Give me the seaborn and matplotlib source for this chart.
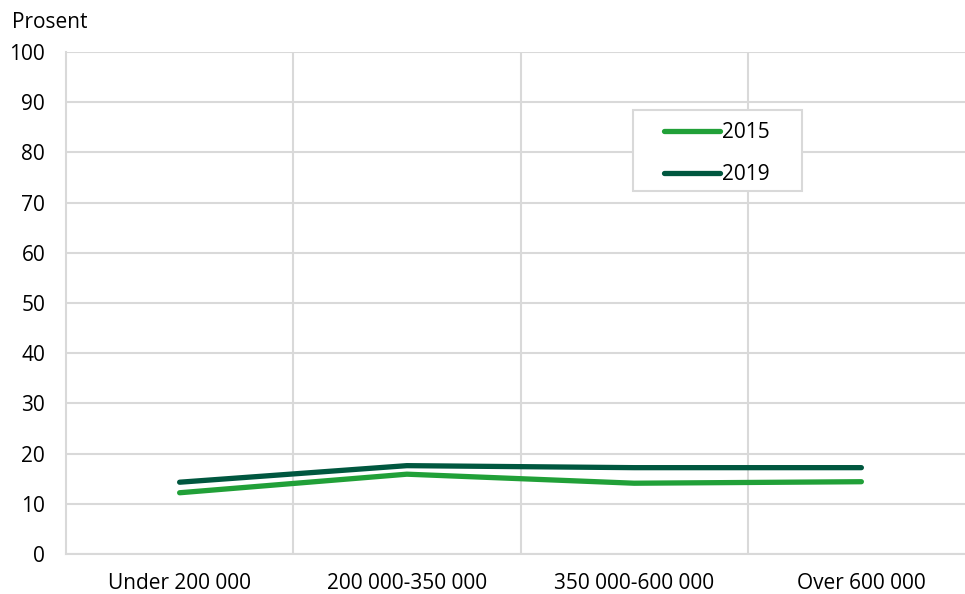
import pandas as pd
import matplotlib.pyplot as plt
import matplotlib.patches as patches
import seaborn as sns

# data
kategorier = ['Under 200 000', '200 000-350 000', '350 000-600 000', 'Over 600 000']
verdi_2015 = [12.2, 15.9, 14.1, 14.4]
verdi_2019 = [14.3, 17.6, 17.2, 17.2]
aar = ['2015', '2019']

data = pd.DataFrame({
    'kategori': kategorier * 2,
    'prosent': verdi_2015 + verdi_2019,
    'aar': [aar[0]] * 4 + [aar[1]] * 4,
})

sns.set_style('white')
plt.rcParams['font.family'] = ['Open Sans', 'DejaVu Sans']
plt.rcParams['text.color'] = '#000000'

fig = plt.figure(figsize=(9.65, 5.94), dpi=100)
ax = fig.add_axes([66 / 965, 1 - 554 / 594, (975 - 66) / 965, (554 - 52) / 594])

farger = {'2015': '#21a038', '2019': '#00573f'}
sns.lineplot(data=data, x='kategori', y='prosent', hue='aar', palette=farger,
             linewidth=3.8, ax=ax, sort=False, legend=True)
for ln in ax.lines:
    ln.set_solid_capstyle('round')

ax.set_xlim(-0.5, 3.5)
ax.set_ylim(0, 100)
ax.set_yticks(range(0, 101, 10))
ax.set_xticks(range(4))
ax.set_xticklabels(kategorier)
ax.set_xticks([0.5, 1.5, 2.5], minor=True)
ax.grid(True, which='major', axis='y', color='#d9d9d9', linewidth=1.5)
ax.grid(True, which='minor', axis='x', color='#d9d9d9', linewidth=1.5)
ax.set_axisbelow(True)
ax.tick_params(axis='both', which='both', length=0, labelsize=15, colors='#000000')
ax.tick_params(axis='y', pad=15)
ax.tick_params(axis='x', pad=14)
ax.set_xlabel('')
ax.set_ylabel('')
for s in ['top', 'right']:
    ax.spines[s].set_visible(False)
for s in ['left', 'bottom']:
    ax.spines[s].set_color('#d9d9d9')
    ax.spines[s].set_linewidth(1.5)

# legend box drawn by hand so the padding matches
ramme = patches.Rectangle((633 / 965, 1 - 191 / 594), (802 - 633) / 965, (191 - 110) / 594,
                          transform=fig.transFigure, facecolor='white',
                          edgecolor='#d9d9d9', linewidth=1.5, zorder=4, clip_on=False)
ax.add_patch(ramme)

leg = ax.legend(loc='upper left', bbox_to_anchor=(664 / 965, 1 - 122 / 594),
                bbox_transform=fig.transFigure, fontsize=15, frameon=False,
                handlelength=2.7, handletextpad=0.1, borderpad=0,
                labelspacing=1.0, borderaxespad=0)
leg.set_zorder(6)
for h in leg.get_lines():
    h.set_linewidth(3.8)
    h.set_solid_capstyle('round')

fig.text(12 / 965, 1 - 22 / 594, 'Prosent', fontsize=15, va='center', ha='left')

fig.savefig('out.png', dpi=100)
